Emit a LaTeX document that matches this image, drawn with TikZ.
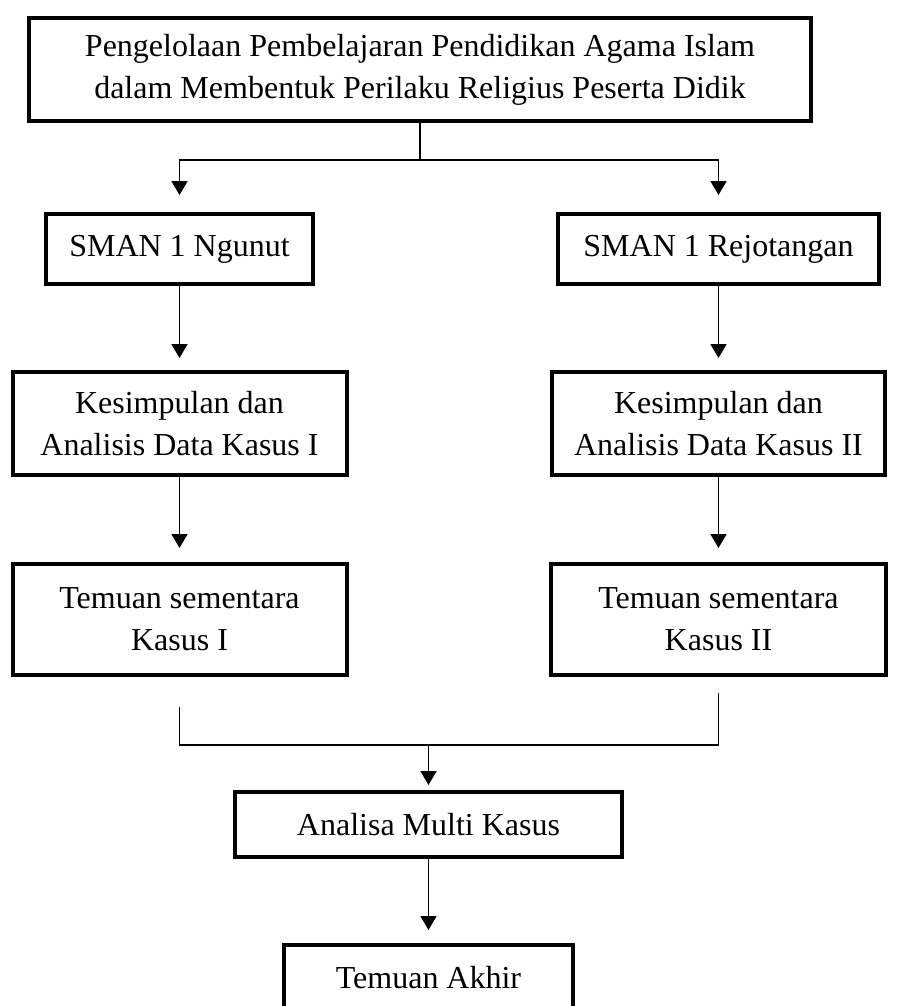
\documentclass[tikz,border=0pt]{standalone}
\usepackage{fontspec}
\setmainfont{Liberation Serif}
\usetikzlibrary{positioning, arrows.meta}

\begin{document}
\begin{tikzpicture}[
  box/.style={draw, rectangle, line width=2pt, align=center, font=\fontsize{16pt}{21pt}\selectfont},
  arrow/.style={-{Triangle[width=8pt, length=7pt]}, line width=0.9pt},
  link/.style={line width=0.7pt}
]
\useasboundingbox (0,0) rectangle (448pt,-503pt);

% Nodes
\node[box, minimum width=391pt, minimum height=51.5pt] (top) at (210pt,-34.75pt) {Pengelolaan Pembelajaran Pendidikan Agama Islam\\dalam Membentuk Perilaku Religius Peserta Didik};
\node[box, minimum width=133.5pt, minimum height=35pt] (sman1) at (89.75pt,-124.5pt) {SMAN 1 Ngunut};
\node[box, minimum width=160.5pt, minimum height=35pt, right=120.5pt of sman1] (sman2) {SMAN 1 Rejotangan};
\node[box, minimum width=167pt, minimum height=51.5pt, below=42pt of sman1] (kes1) {Kesimpulan dan\\Analisis Data Kasus I};
\node[box, minimum width=166.5pt, minimum height=51.5pt, below=42pt of sman2] (kes2) {Kesimpulan dan\\Analisis Data Kasus II};
\node[box, minimum width=167pt, minimum height=55.5pt, below=42.5pt of kes1] (tem1) {Temuan sementara\\Kasus I};
\node[box, minimum width=167.5pt, minimum height=55.5pt, below=42.5pt of kes2] (tem2) {Temuan sementara\\Kasus II};
\node[box, minimum width=193.5pt, minimum height=32.5pt] (ana) at (214.25pt,-412.25pt) {Analisa Multi Kasus};
\node[box, minimum width=144.5pt, minimum height=32.5pt, below=42pt of ana] (akhir) {Temuan Akhir};

% Lines
\coordinate[below=18.5pt of top] (split);
\coordinate[above=22.5pt of ana] (merge);
\draw[link] (top) -- (split);
\draw[arrow, shorten >=8.5pt] (split) -| (sman1.north);
\draw[arrow, shorten >=8.5pt] (split) -| (sman2.north);
\draw[arrow, shorten >=6pt] (sman1) -- (kes1);
\draw[arrow, shorten >=6pt] (sman2) -- (kes2);
\draw[arrow, shorten >=7pt] (kes1) -- (tem1);
\draw[arrow, shorten >=7pt] (kes2) -- (tem2);
\draw[link] ([yshift=-15pt]tem1.south) |- (merge) -| ([yshift=-8pt]tem2.south);
\draw[arrow, shorten >=2.5pt] (merge) -- (ana);
\draw[arrow, shorten >=6.5pt] (ana) -- (akhir);

\end{tikzpicture}
\end{document}
